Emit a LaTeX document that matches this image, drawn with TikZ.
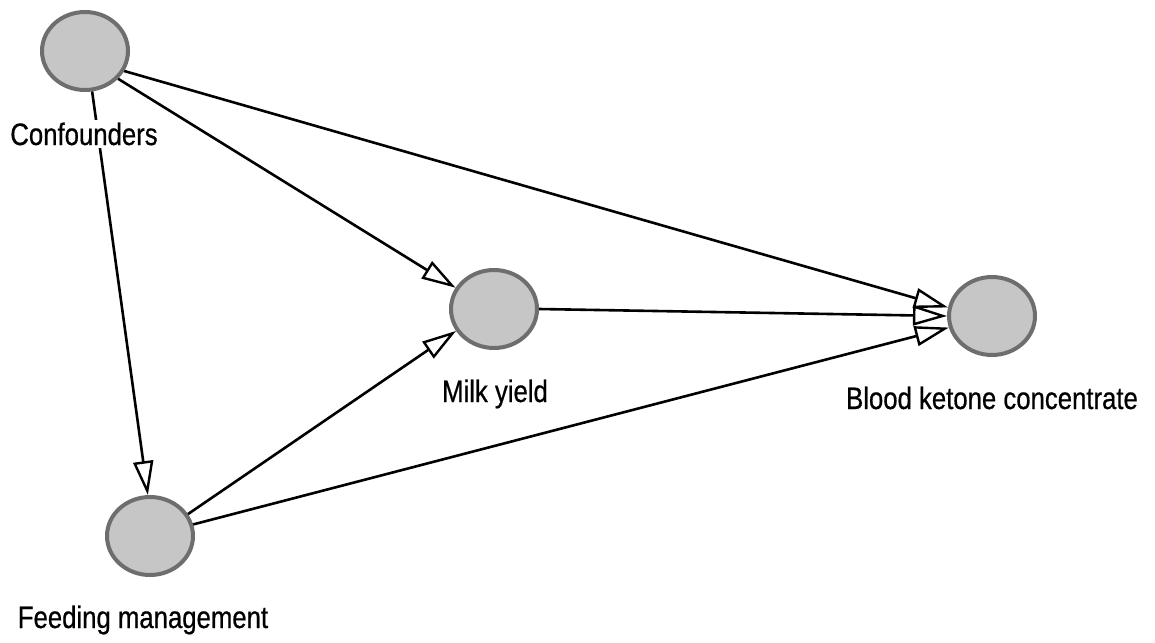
\documentclass[tikz,border=0pt]{standalone}
\usepackage{fontspec}
\setmainfont{Liberation Sans}[FakeStretch=0.83,FakeBold=0.6]
\usetikzlibrary{shapes.geometric,arrows.meta}
\definecolor{nodefill}{HTML}{C6C6C6}
\definecolor{nodeline}{HTML}{6E6E6E}
\begin{document}
\begin{tikzpicture}[x=1pt,y=-1pt,
  varnode/.style={ellipse,draw=nodeline,fill=nodefill,line width=4pt,inner sep=0pt,minimum width=86pt,minimum height=78pt},
  lbl/.style={anchor=base,inner sep=3pt,fill=white,font=\fontsize{31}{36}\selectfont},
  edge/.style={draw=black,line width=2.6pt,-{Triangle[length=34pt,width=20pt,fill=white,line width=2.4pt]}}
]
\useasboundingbox (0,0) rectangle (1155,642);
\node[varnode] (conf) at (85,51) {};
\node[varnode] (milk) at (494,309) {};
\node[varnode] (blood) at (992,316) {};
\node[varnode] (feed) at (150,536) {};
\draw[edge] (conf.-27) -- (blood.169);
\draw[edge] (conf.-40) -- (milk.151);
\draw[edge] (conf.-80) -- (feed.93);
\draw[edge] (milk.0) -- (blood.180);
\draw[edge] (feed.30) -- (milk.-150);
\draw[edge] (feed.15) -- (blood.-165);
\node[lbl] (conflbl) at (84,145) {Confounders};
\node[lbl] (milklbl) at (495,402) {Milk yield};
\node[lbl] (bloodlbl) at (992,409) {Blood ketone concentrate};
\node[lbl] (feedlbl) at (143,628) {Feeding management};
\end{tikzpicture}
\end{document}
